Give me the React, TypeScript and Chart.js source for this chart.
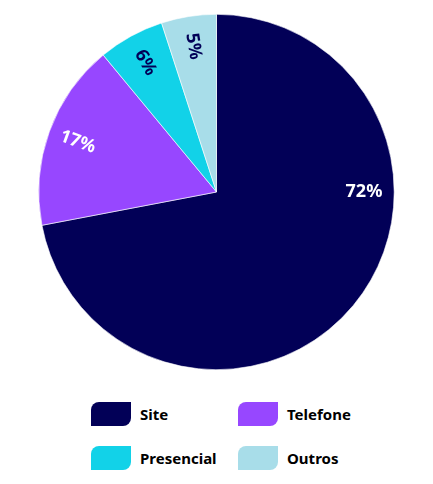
import React, { useEffect, useRef } from 'react';
import { Chart, registerables, Plugin } from 'chart.js';

Chart.register(...registerables);

const labels = ['Site', 'Telefone', 'Presencial', 'Outros'];
const values = [72, 17, 6, 5];
const colors = ['#020057', '#9747FF', '#12D2E8', '#A8DDE9'];
const labelColors = ['#ffffff', '#ffffff', '#020057', '#020057'];

const FONT = '"Noto Sans", sans-serif';

// draws the percentage labels inside the slices, rotated along the radius
const sliceLabels: Plugin<'pie'> = {
  id: 'sliceLabels',
  afterDatasetsDraw(chart) {
    const ctx = chart.ctx;
    const meta = chart.getDatasetMeta(0);
    meta.data.forEach((el: any, i) => {
      const { x, y, startAngle, endAngle, outerRadius } = el.getProps(
        ['x', 'y', 'startAngle', 'endAngle', 'outerRadius'],
        true
      );
      const span = endAngle - startAngle;
      let angle = (startAngle + endAngle) / 2;
      let rot = angle - Math.PI;
      if (span > Math.PI) {
        // big slice: keep the label flat on the right side
        angle = 0;
        rot = 0;
      }
      const r = outerRadius * 0.83;
      ctx.save();
      ctx.translate(x + Math.cos(angle) * r, y + Math.sin(angle) * r);
      ctx.rotate(rot);
      ctx.font = `bold 18px ${FONT}`;
      ctx.fillStyle = labelColors[i];
      ctx.textAlign = 'center';
      ctx.textBaseline = 'middle';
      ctx.fillText(values[i] + '%', 0, 0);
      ctx.restore();
    });
  },
};

const App: React.FC = () => {
  const canvasRef = useRef<HTMLCanvasElement>(null);
  const chartRef = useRef<Chart | null>(null);

  useEffect(() => {
    if (!canvasRef.current) return;
    if (chartRef.current) chartRef.current.destroy();

    chartRef.current = new Chart(canvasRef.current, {
      type: 'pie',
      data: {
        labels,
        datasets: [
          {
            data: values,
            backgroundColor: colors,
            borderColor: '#ffffff',
            borderWidth: 0.6,
          },
        ],
      },
      options: {
        animation: false,
        responsive: true,
        maintainAspectRatio: false,
        layout: { padding: 6 },
        plugins: {
          legend: { display: false },
          tooltip: { enabled: false },
        },
      },
      plugins: [sliceLabels],
    });

    return () => {
      if (chartRef.current) {
        chartRef.current.destroy();
        chartRef.current = null;
      }
    };
  }, []);

  return (
    <div style={{ fontFamily: FONT }}>
      <div style={{ position: 'relative', height: 368 }}>
        <canvas ref={canvasRef}></canvas>
      </div>
      <div
        style={{
          display: 'grid',
          gridTemplateColumns: '147px 147px',
          rowGap: 20,
          paddingLeft: 83,
          marginTop: 26,
        }}
      >
        {labels.map((l, i) => (
          <div key={l} style={{ display: 'flex', alignItems: 'center', height: 24 }}>
            <span
              style={{
                display: 'inline-block',
                width: 40,
                height: 24,
                background: colors[i],
                borderRadius: '8px 0 8px 0',
                marginRight: 9,
              }}
            />
            <span style={{ fontWeight: 'bold', fontSize: 15, color: '#000' }}>{l}</span>
          </div>
        ))}
      </div>
    </div>
  );
};

export default App;
